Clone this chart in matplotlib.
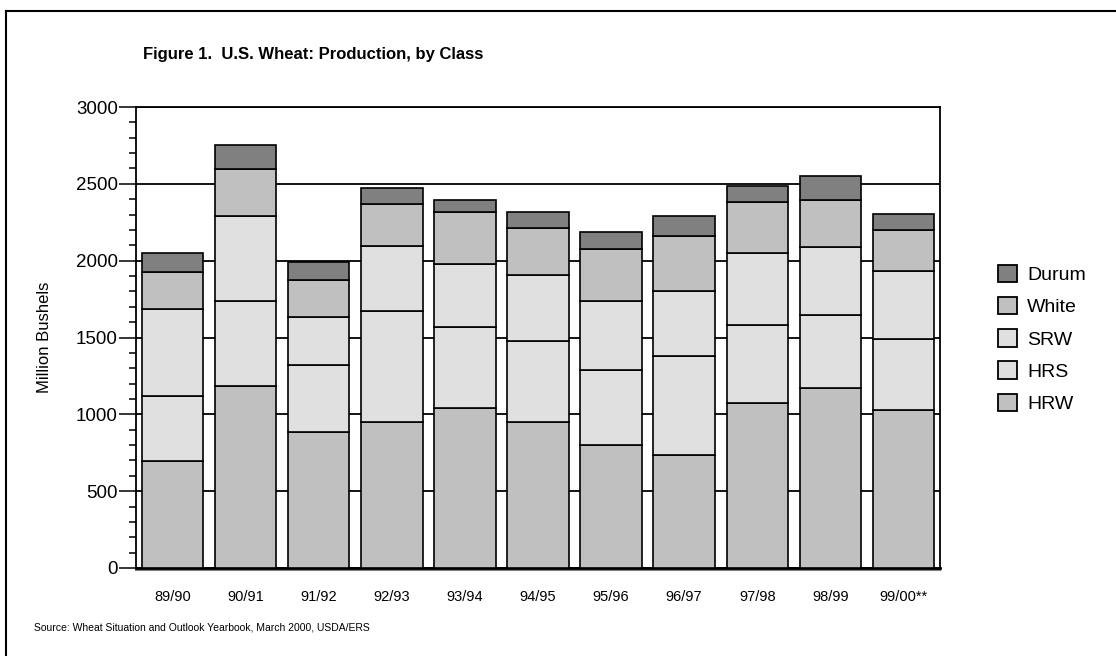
import matplotlib
matplotlib.use("Agg")
import matplotlib.pyplot as plt
from matplotlib.patches import Patch
from matplotlib.lines import Line2D
from matplotlib.ticker import MultipleLocator

years = ["89/90", "90/91", "91/92", "92/93", "93/94", "94/95",
         "95/96", "96/97", "97/98", "98/99", "99/00**"]
hrw = [697, 1186, 884, 950, 1042, 948, 803, 737, 1077, 1173, 1026]
hrs = [424, 553, 434, 724, 524, 526, 487, 645, 502, 472, 463]
srw = [564, 553, 314, 421, 410, 434, 447, 421, 474, 447, 446]
white = [238, 303, 239, 276, 340, 303, 342, 355, 329, 303, 263]
durum = [130, 157, 121, 103, 79, 105, 106, 134, 107, 158, 105]

series = [("HRW", hrw, "#c0c0c0"), ("HRS", hrs, "#e0e0e0"),
          ("SRW", srw, "#e0e0e0"), ("White", white, "#c0c0c0"),
          ("Durum", durum, "#808080")]

plt.rcParams['font.family'] = ['Liberation Sans', 'DejaVu Sans']

fig = plt.figure(figsize=(11.16, 6.56), dpi=100)
fig.patch.set_facecolor("white")
W, H = 1116, 656
ax = fig.add_axes([136 / W, 1 - 568 / H, (940 - 136) / W, (568 - 107) / H])

x = list(range(len(years)))
bottom = [0] * len(years)
handles = {}
for name, vals, col in series:
    ax.bar(x, vals, width=0.84, bottom=bottom, color=col,
           edgecolor="black", linewidth=1.2, zorder=3)
    bottom = [b + v for b, v in zip(bottom, vals)]
    handles[name] = Patch(facecolor=col, edgecolor="black", linewidth=1.3)

ax.set_xlim(-0.5, len(years) - 0.5)
ax.set_ylim(0, 3000)
ax.yaxis.set_major_locator(MultipleLocator(500))
ax.yaxis.set_minor_locator(MultipleLocator(100))
ax.yaxis.grid(True, which="major", color="black", linewidth=1.3, zorder=0)
ax.set_axisbelow(True)

ax.set_xticks(x)
ax.set_xticklabels(years, fontsize=10.5)
ax.tick_params(axis="x", length=0, pad=16)
ax.tick_params(axis="y", which="major", length=12, width=1.1, labelsize=13.5, pad=1)
ax.tick_params(axis="y", which="minor", length=5, width=1.1)

for s in ["left", "right", "top"]:
    ax.spines[s].set_linewidth(1.3)
    ax.spines[s].set_color("black")
ax.spines["bottom"].set_linewidth(2.0)
ax.spines["bottom"].set_color("black")
ax.add_line(Line2D([0, 1], [-0.005, -0.005], transform=ax.transAxes,
                   color="#808080", linewidth=1.5, clip_on=False))

ax.set_ylabel("Million Bushels", fontsize=12, labelpad=17)

order = ["Durum", "White", "SRW", "HRS", "HRW"]
leg = fig.legend([handles[n] for n in order], order, loc="upper left",
                 bbox_to_anchor=(990 / W, 1 - 257 / H), frameon=False,
                 fontsize=14, handlelength=1.0, handleheight=1.0,
                 labelspacing=0.66, handletextpad=0.5, borderaxespad=0)

fig.text(313 / W, 1 - 55 / H, "Figure 1.  U.S. Wheat: Production, by Class",
         ha="center", va="center", fontsize=12, fontweight="bold")

fig.text(34 / W, 1 - 628 / H,
         "Source: Wheat Situation and Outlook Yearbook, March 2000, USDA/ERS",
         ha="left", va="center", fontsize=7.5)

fig.add_artist(Line2D([6 / W, 6 / W], [0, 1 - 11 / H], color="black", linewidth=1.5))
fig.add_artist(Line2D([6 / W, 1], [1 - 11 / H, 1 - 11 / H], color="black", linewidth=1.5))

fig.savefig("out.png", dpi=100)
